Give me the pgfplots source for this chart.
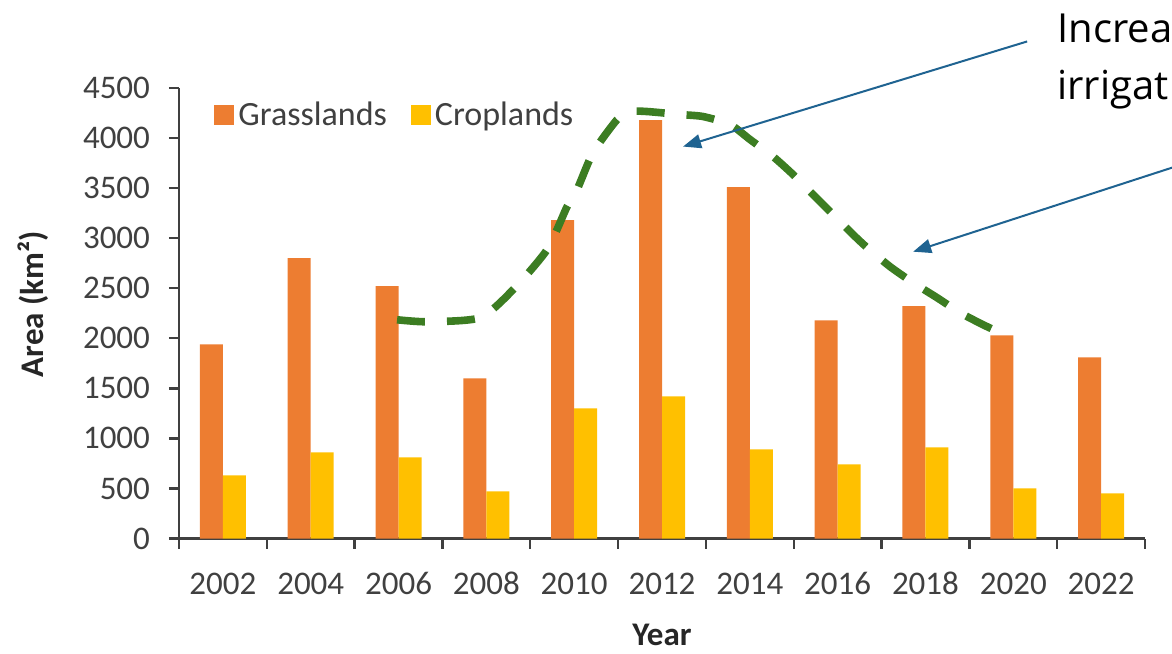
\documentclass[border=0pt]{standalone}
\usepackage{fontspec}
\setmainfont{Carlito}
\newfontfamily\notefont{Open Sans}
\usepackage{pgfplots}
\pgfplotsset{compat=1.18}
\usetikzlibrary{arrows.meta}

\definecolor{grass}{HTML}{ED7D31}
\definecolor{crop}{HTML}{FFC000}
\definecolor{dashgreen}{HTML}{3C7D22}
\definecolor{arrowblue}{HTML}{1F6391}
\definecolor{txt}{HTML}{404040}

\pgfplotsset{
  sqlegend/.style={legend image code/.code={\fill[##1] (0pt,-5pt) rectangle (10pt,5pt);}},
}

% Area (km2) per year, categories 2002..2022 plotted at 0..10
\pgfplotstableread{
x grass crop
0  1940 630
1  2800 860
2  2520 810
3  1600 470
4  3180 1300
5  4180 1420
6  3510 890
7  2180 740
8  2320 910
9  2030 500
10 1810 450
}\areadata

\begin{document}
\begin{tikzpicture}
\begin{axis}[
  name=ax,
  scale only axis,
  width=483pt, height=225.25pt,
  xmin=-0.5, xmax=10.5,
  ymin=0, ymax=4500,
  clip=false,
  axis x line*=bottom, axis y line*=left,
  axis line style={black!75, line width=1.2pt},
  tick align=outside,
  major tick length=5pt,
  tick style={black!75, line width=1.2pt},
  xtick={-0.5,0.5,...,10.5},
  x tick label as interval,
  xticklabels={2002,2004,2006,2008,2010,2012,2014,2016,2018,2020,2022},
  ytick={0,500,...,4500},
  /pgf/number format/assume math mode=true,
  /pgf/number format/set thousands separator={},
  ticklabel style={font=\fontsize{16.5}{18}\selectfont, text=txt},
  yticklabel style={xshift=-6pt},
  xticklabel style={text height=10.5pt, text depth=0pt, yshift=-9pt},
  xlabel={\textbf{Year}},
  ylabel={\textbf{Area (km²)}},
  label style={font=\fontsize{16.5}{18}\selectfont, text=black!85},
  xlabel style={at={(axis description cs:0.5,0)}, anchor=base, inner sep=0pt, yshift=-53.5pt},
  ylabel style={at={(axis description cs:-0.151,0.52)}, anchor=center},
  legend columns=2,
  legend style={draw=none, fill=none, at={(0.03,0.94)}, anchor=west,
    font=\fontsize{17}{20}\selectfont, text=txt,
    /tikz/every even column/.append style={column sep=10pt}},
]
\addplot[ybar, bar width=11.5pt, bar shift=-5.75pt, fill=grass, draw=none, sqlegend]
  table[x=x, y=grass] {\areadata};
\addlegendentry{Grasslands}
\addplot[ybar, bar width=11.5pt, bar shift=5.75pt, fill=crop, draw=none, sqlegend]
  table[x=x, y=crop] {\areadata};
\addlegendentry{Croplands}

% hand-drawn dashed trend outline
\addplot[smooth, tension=0.4, dashgreen, line width=3.8pt, dash pattern=on 14pt off 11pt, forget plot, no marks]
  coordinates {
  (1.983,2185) (2.325,2165) (2.928,2205) (3.304,2485) (3.691,2885)
  (3.919,3315) (4.033,3485) (4.215,3855) (4.489,4185) (4.637,4265)
  (4.830,4265) (5.206,4235) (5.468,4215) (5.776,4135) (6.003,3985)
  (6.265,3815) (6.493,3635) (6.721,3435) (6.949,3235) (7.177,3035)
  (7.336,2905) (7.598,2715) (7.860,2555) (8.133,2405) (8.395,2255)
  (8.657,2135) (8.828,2065)
  };

% annotation arrows
\draw[arrowblue, line width=1pt, -{Triangle[length=9pt,width=7pt]}]
  (axis cs:9.158,4965) -- (axis cs:5.240,3915);
\draw[arrowblue, line width=1pt, -{Triangle[length=9pt,width=7pt]}]
  (axis cs:10.81,3705) -- (axis cs:7.860,2865);
\end{axis}

\node[anchor=base west, inner sep=0pt, font=\notefont\fontsize{20}{24}\selectfont]
  at ([xshift=-44pt, yshift=22.5pt]ax.north east) {Increa};
\node[anchor=base west, inner sep=0pt, font=\notefont\fontsize{20}{24}\selectfont]
  at ([xshift=-44pt, yshift=-6pt]ax.north east) {irrigat};

\pgfresetboundingbox
\path[use as bounding box] ([xshift=-89.5pt, yshift=-57.25pt]ax.south west)
  rectangle ([xshift=13.5pt, yshift=44pt]ax.north east);
\end{tikzpicture}
\end{document}
